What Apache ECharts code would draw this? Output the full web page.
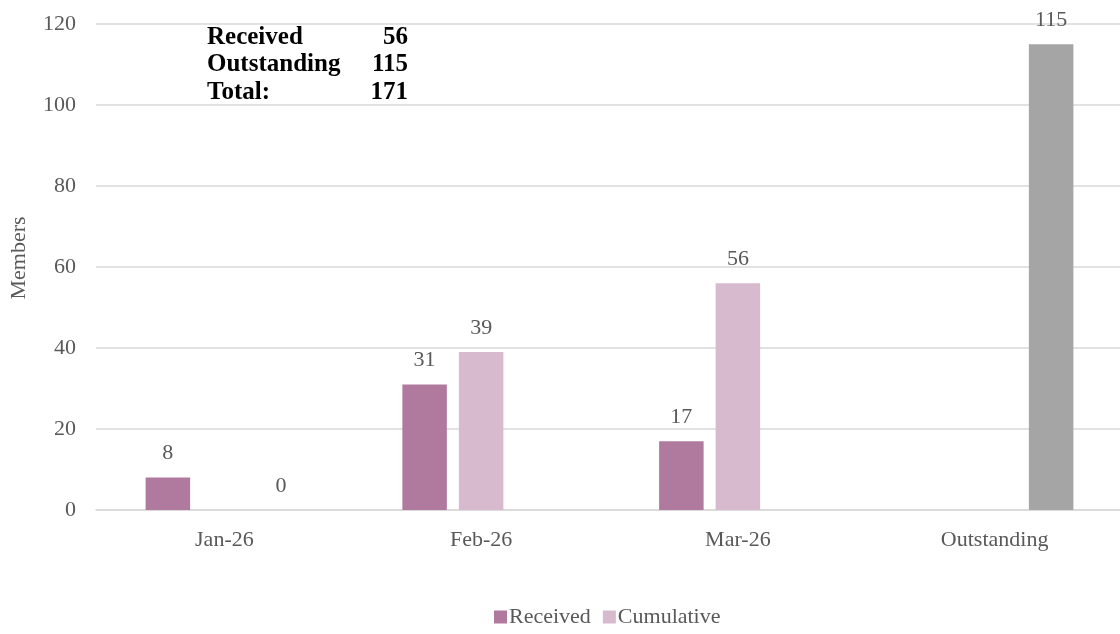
<!DOCTYPE html>
<html><head><meta charset="utf-8">
<script src="https://cdn.jsdelivr.net/npm/echarts@6/dist/echarts.min.js"></script>
<style>html,body{margin:0;padding:0;background:#fff;overflow:hidden;width:1120px;height:634px}#c{width:1126px;height:634px}</style>
</head><body><div id="c"></div>
<script>
var categories = ['Jan-26', 'Feb-26', 'Mar-26', 'Outstanding'];
var received = [8, 31, 17, null];
var cumulative = [null, 39, 56, null];
var outstanding = [0, null, null, 115];
var yTicks = [0, 20, 40, 60, 80, 100, 120];
var summaryLabels = ['Received', 'Outstanding', 'Total:'];
var summaryValues = [56, 115, 171];

var FONT = '"Liberation Serif", "DejaVu Serif", serif';
var FS = 22;
var chart = echarts.init(document.getElementById('c'));
var lbl = {show: true, position: 'top', distance: 13, color: '#595959', fontFamily: FONT, fontSize: FS};
var graphics = [];
summaryLabels.forEach(function (t, i) {
  graphics.push({type: 'text', left: 207, top: 25 + i * 27.5, style: {text: t, fontFamily: FONT, fontWeight: 'bold', fontSize: 25, fill: '#000'}});
  graphics.push({type: 'text', right: 1126 - 408, top: 25 + i * 27.5, style: {text: String(summaryValues[i]), fontFamily: FONT, fontWeight: 'bold', fontSize: 25, fill: '#000', textAlign: 'right'}});
});
chart.setOption({
  animation: false,
  textStyle: {fontFamily: FONT},
  grid: {left: 95, top: 24, width: 1028, height: 486, containLabel: false},
  legend: {
    top: 601, left: 489, itemWidth: 13, itemHeight: 13, itemGap: 12,
    icon: 'rect',
    textStyle: {color: '#595959', fontFamily: FONT, fontSize: FS, padding: [0, 0, 0, -3]},
    data: ['Received', 'Cumulative']
  },
  xAxis: {
    type: 'category', data: categories,
    axisLine: {lineStyle: {color: '#D9D9D9', width: 1.5}},
    axisTick: {show: false},
    axisLabel: {color: '#595959', fontFamily: FONT, fontSize: FS, margin: 19}
  },
  yAxis: {
    type: 'value', min: 0, max: 120, interval: 20,
    name: 'Members', nameLocation: 'middle', nameGap: 66, nameRotate: 90,
    nameTextStyle: {color: '#595959', fontFamily: FONT, fontSize: FS, padding: [0, 0, 0, 18]},
    axisLine: {show: false}, axisTick: {show: false},
    axisLabel: {color: '#595959', fontFamily: FONT, fontSize: FS, margin: 20,
      formatter: function (v) { return yTicks.indexOf(v) >= 0 ? String(v) : ''; }},
    splitLine: {lineStyle: {color: '#D9D9D9', width: 1.5}}
  },
  series: [
    {name: 'Received', type: 'bar', data: received, barWidth: 44.5, barGap: '27%', itemStyle: {color: '#B07A9F'}, label: lbl},
    {name: 'Cumulative', type: 'bar', data: cumulative, barWidth: 44.5, barGap: '27%', itemStyle: {color: '#D7BACE'}, label: lbl},
    {name: 'Outstanding', type: 'bar', data: outstanding, barWidth: 44.5, barGap: '27%', itemStyle: {color: '#A5A5A5'}, label: lbl}
  ],
  graphic: graphics
});
</script></body></html>
